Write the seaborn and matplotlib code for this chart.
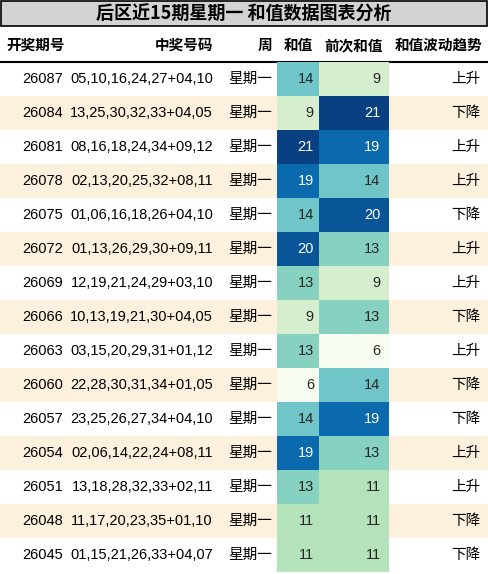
import numpy as np
import matplotlib
matplotlib.use("Agg")
import matplotlib.pyplot as plt
import seaborn as sns

periods = ["26087", "26084", "26081", "26078", "26075", "26072", "26069", "26066",
           "26063", "26060", "26057", "26054", "26051", "26048", "26045"]
numbers = ["05,10,16,24,27+04,10", "13,25,30,32,33+04,05", "08,16,18,24,34+09,12",
           "02,13,20,25,32+08,11", "01,06,16,18,26+04,10", "01,13,26,29,30+09,11",
           "12,19,21,24,29+03,10", "10,13,19,21,30+04,05", "03,15,20,29,31+01,12",
           "22,28,30,31,34+01,05", "23,25,26,27,34+04,10", "02,06,14,22,24+08,11",
           "13,18,28,32,33+02,11", "11,17,20,23,35+01,10", "01,15,21,26,33+04,07"]
sums = [14, 9, 21, 19, 14, 20, 13, 9, 13, 6, 14, 19, 13, 11, 11]
prev_sums = [9, 21, 19, 14, 20, 13, 9, 13, 6, 14, 19, 13, 11, 11, 11]
trends = ["上升", "下降", "上升", "上升", "下降", "上升", "上升", "下降",
          "上升", "下降", "下降", "上升", "上升", "下降", "下降"]
headers = ["开奖期号", "中奖号码", "周", "和值", "前次和值", "和值波动趋势"]
title = "后区近15期星期一 和值数据图表分析"

W, H = 488, 574
TOP, ROW_H = 62, 34
edges = [0, 68, 218, 277, 319, 389, 488]
FONT = ["Liberation Sans", "Noto Sans CJK SC"]
plt.rcParams["font.family"] = FONT

fig = plt.figure(figsize=(W / 100, H / 100), dpi=100)
ax = fig.add_axes([0, 0, 1, 1])
ax.set_xlim(0, W)
ax.set_ylim(H, 0)
ax.axis("off")

n = len(periods)
rows = np.arange(n)
ys = TOP + rows * ROW_H + ROW_H / 2
bg = ["white" if i % 2 == 0 else "#fdf0dc" for i in rows]
ax.barh(ys, W, height=ROW_H, left=0, color=bg)

# title box
ax.add_patch(plt.Rectangle((1, 1), W - 2, 25, facecolor="#d3d3d3", edgecolor="black", lw=1.2))
ax.text(W / 2, 14, title, ha="center", va="center", fontsize=13, fontweight="bold",
        family=["Noto Sans CJK SC"])

# header
hy = 45
ax.text(6, hy, headers[0], ha="left", va="center", fontsize=10.5, fontweight="bold", family=["Noto Sans CJK SC"])
for k, h in enumerate(headers[1:], start=1):
    if k <= 2:
        ax.text(edges[k + 1] - 5, hy, h, ha="right", va="center", fontsize=10.5, fontweight="bold", family=["Noto Sans CJK SC"])
    else:
        ax.text((edges[k] + edges[k + 1]) / 2, hy, h, ha="center", va="center", fontsize=10.5, fontweight="bold", family=["Noto Sans CJK SC"])
ax.plot([0, W], [TOP, TOP], color="black", lw=1.5)

for i in rows:
    y = ys[i]
    ax.text(edges[1] - 5, y, periods[i], ha="right", va="center", fontsize=10.5)
    ax.text(edges[2] - 5, y, numbers[i], ha="right", va="center", fontsize=10.5)
    ax.text(edges[3] - 5, y, "星期一", ha="right", va="center", fontsize=10.5, family=["Noto Sans CJK SC"])
    ax.text(W - 8, y, trends[i], ha="right", va="center", fontsize=10.5, family=["Noto Sans CJK SC"])

# heatmap columns
for col, vals in ((3, sums), (4, prev_sums)):
    x0, x1 = edges[col], edges[col + 1]
    hax = fig.add_axes([x0 / W, (H - TOP - n * ROW_H) / H, (x1 - x0) / W, n * ROW_H / H])
    sns.heatmap(np.array(vals).reshape(-1, 1), ax=hax, cmap="GnBu", vmin=6, vmax=21,
                annot=True, fmt="d", cbar=False, xticklabels=False, yticklabels=False,
                annot_kws={"fontsize": 10.5, "ha": "right", "family": FONT})
    for t in hax.texts:
        t.set_x(0.88)
    hax.axis("off")

fig.savefig("out.png", dpi=100)
